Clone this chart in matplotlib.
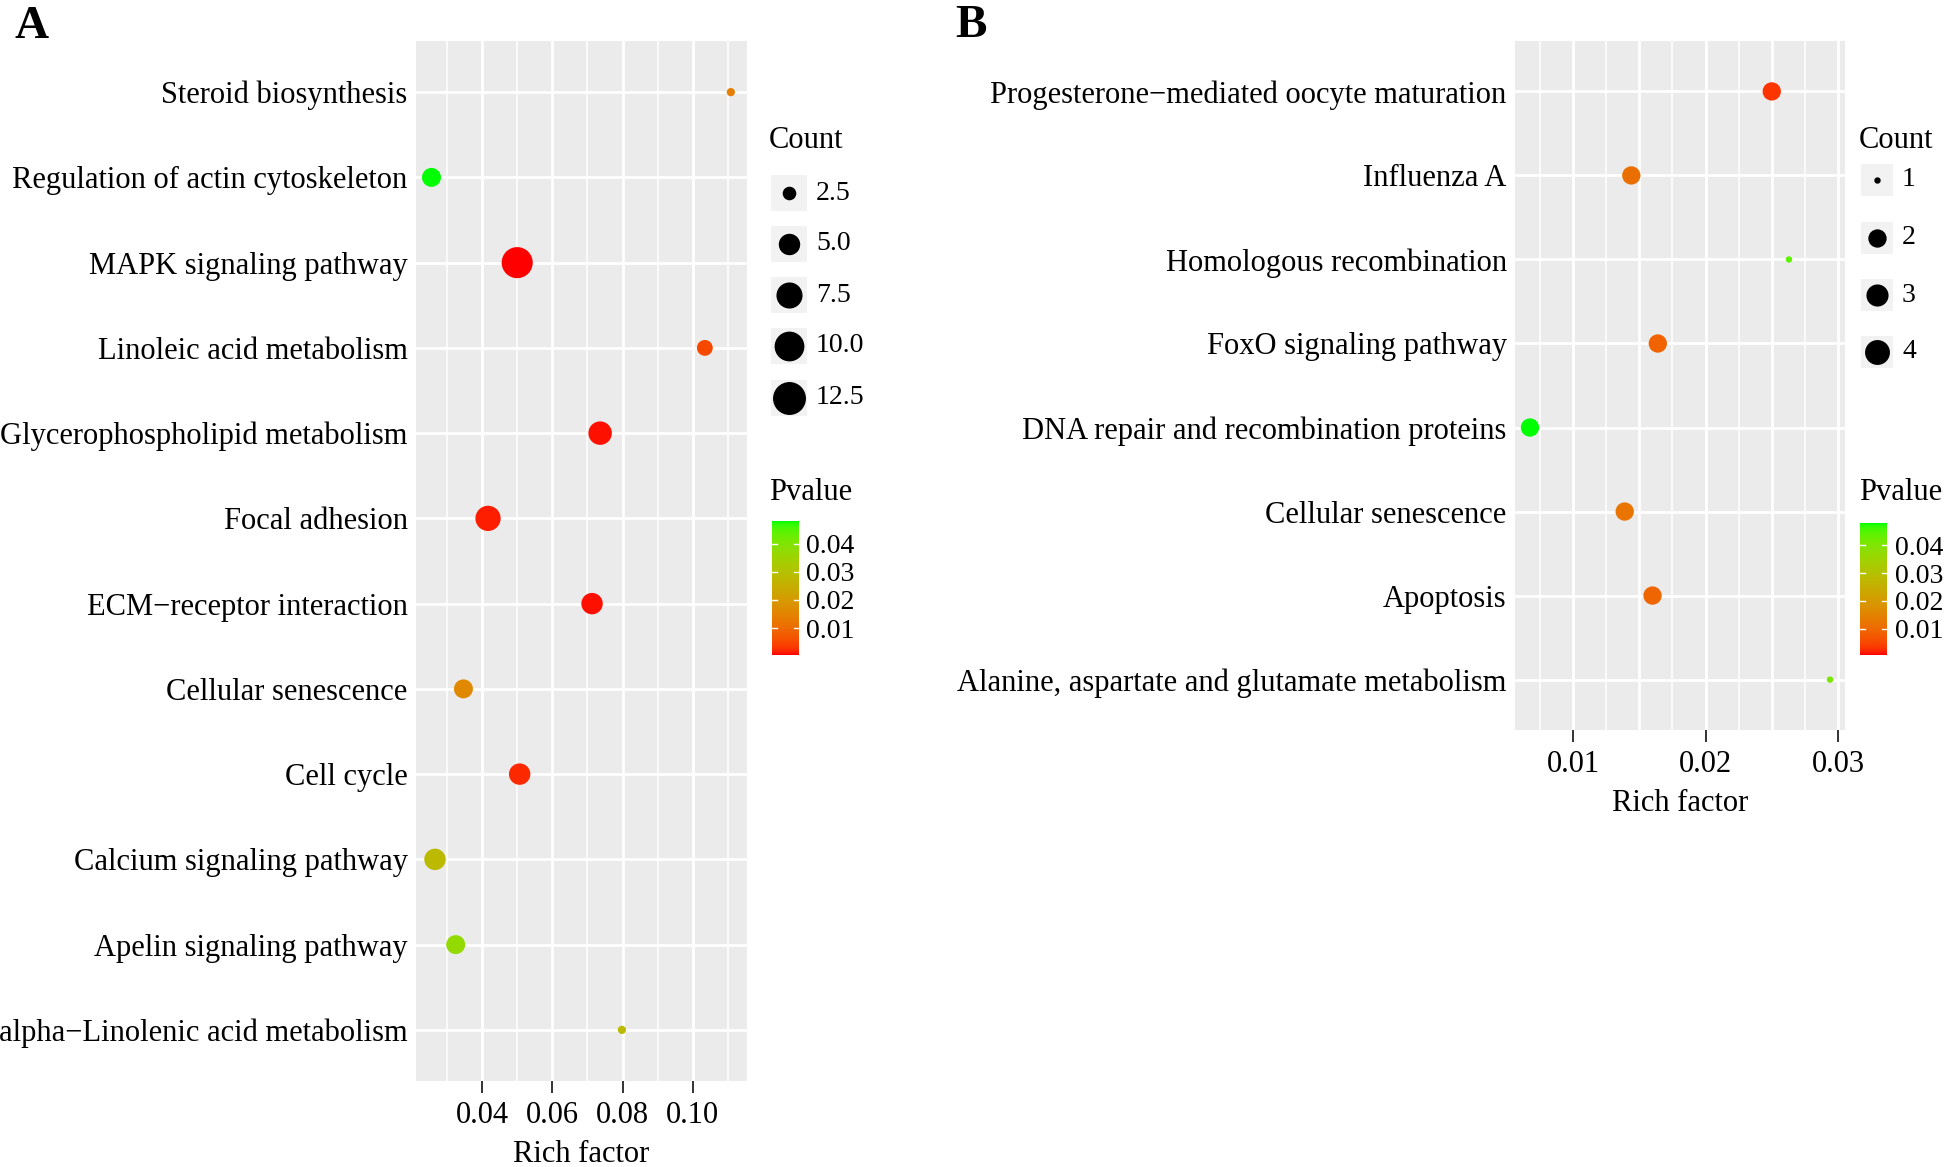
import numpy as np
import matplotlib
matplotlib.use('Agg')
import matplotlib.pyplot as plt
from matplotlib.colors import ListedColormap, Normalize
from matplotlib.patches import Rectangle
from matplotlib.cm import ScalarMappable

plt.rcParams['font.family'] = ['Liberation Serif', 'DejaVu Serif']

W, H, DPI = 1944, 1167, 100

# ---------------- data (top to bottom) ----------------
terms_a = ["Steroid biosynthesis", "Regulation of actin cytoskeleton",
           "MAPK signaling pathway", "Linoleic acid metabolism",
           "Glycerophospholipid metabolism", "Focal adhesion",
           "ECM\u2212receptor interaction", "Cellular senescence", "Cell cycle",
           "Calcium signaling pathway", "Apelin signaling pathway",
           "alpha\u2212Linolenic acid metabolism"]
rich_a = [0.1108, 0.0256, 0.0500, 0.1034, 0.0736, 0.0417,
          0.0713, 0.0347, 0.0507, 0.0266, 0.0325, 0.0798]
count_a = [2, 4, 11, 3, 6, 7, 5, 4, 5, 5, 4, 2]
pval_a = [0.014, 0.048, 0.0005, 0.005, 0.001, 0.0015,
          0.001, 0.016, 0.002, 0.028, 0.037, 0.028]

terms_b = ["Progesterone\u2212mediated oocyte maturation", "Influenza A",
           "Homologous recombination", "FoxO signaling pathway",
           "DNA repair and recombination proteins", "Cellular senescence",
           "Apoptosis", "Alanine, aspartate and glutamate metabolism"]
rich_b = [0.0250, 0.0144, 0.0263, 0.0164, 0.00675, 0.0139, 0.0160, 0.0294]
count_b = [2, 2, 1, 2, 2, 2, 2, 1]
pval_b = [0.003, 0.011, 0.044, 0.009, 0.048, 0.012, 0.0095, 0.041]

legend_a = [2.5, 5.0, 7.5, 10.0, 12.5]
legend_b = [1, 2, 3, 4]
pv_ticks = [0.01, 0.02, 0.03, 0.04]


def px_box(x0, y0, x1, y1):
    return [x0 / W, 1 - y1 / H, (x1 - x0) / W, (y1 - y0) / H]


# red -> green gradient interpolated in CIELAB (like ggplot)
M = np.array([[0.4124564, 0.3575761, 0.1804375],
              [0.2126729, 0.7151522, 0.0721750],
              [0.0193339, 0.1191920, 0.9503041]])
WHITE = np.array([0.95047, 1.0, 1.08883])


def to_lab(rgb):
    c = np.asarray(rgb, float)
    lin = np.where(c <= 0.04045, c / 12.92, ((c + 0.055) / 1.055) ** 2.4)
    xyz = M @ lin / WHITE
    f = np.where(xyz > 0.008856, np.cbrt(xyz), 7.787 * xyz + 16 / 116)
    return np.array([116 * f[1] - 16, 500 * (f[0] - f[1]), 200 * (f[1] - f[2])])


def from_lab(lab):
    L, a, b = lab
    fy = (L + 16) / 116
    f = np.array([fy + a / 500, fy, fy - b / 200])
    xyz = np.where(f ** 3 > 0.008856, f ** 3, (f - 16 / 116) / 7.787) * WHITE
    lin = np.linalg.inv(M) @ xyz
    lin = np.clip(lin, 0, None)
    c = np.where(lin <= 0.0031308, 12.92 * lin, 1.055 * lin ** (1 / 2.4) - 0.055)
    return np.clip(c, 0, 1)


lo, hi = to_lab([1, 0, 0]), to_lab([0, 1, 0])
cmap = ListedColormap([from_lab(lo + t * (hi - lo)) for t in np.linspace(0, 1, 256)])
norm = Normalize(vmin=0.0005, vmax=0.048)


def size_a(c):
    d = 8.2 + 25.3 * np.sqrt((np.asarray(c, float) - 2) / 11)
    return (d * 72 / DPI) ** 2


def size_b(c):
    d = 6.4 + 18.5 * ((np.asarray(c, float) - 1) / 3) ** 0.4
    return (d * 72 / DPI) ** 2


fig = plt.figure(figsize=(W / DPI, H / DPI), dpi=DPI)
ov = fig.add_axes([0, 0, 1, 1])
ov.set_xlim(0, W)
ov.set_ylim(H, 0)
ov.axis('off')


def draw_panel(ax, terms, rich, counts, pvals, size_fn, xlim, ticks, major, minor):
    y = np.arange(len(terms))
    ax.set_facecolor('#EBEBEB')
    for v in minor:
        ax.axvline(v, color='white', lw=1.1, zorder=0)
    for v in major:
        ax.axvline(v, color='white', lw=2.0, zorder=0)
    for yy in y:
        ax.axhline(yy, color='white', lw=2.0, zorder=0)
    ax.scatter(rich, y, s=size_fn(counts), c=pvals, cmap=cmap, norm=norm,
               linewidths=0, zorder=3)
    ax.set_xlim(*xlim)
    ax.set_ylim(len(terms) - 1 + 0.6, -0.6)
    ax.set_yticks(y)
    ax.set_yticklabels(terms, fontsize=22)
    ax.set_xticks(ticks)
    ax.set_xticklabels(['%.2f' % t for t in ticks], fontsize=22)
    ax.tick_params(axis='y', length=0, pad=6)
    ax.tick_params(axis='x', length=8.6, width=1.4, color='#333333', pad=6)
    for s in ax.spines.values():
        s.set_visible(False)
    ax.set_xlabel('Rich factor', fontsize=22, labelpad=7)


def draw_legend(xt, key_cx, key_ys, key_w, vals, labels, label_x, size_fn, cbar, cbar_lx):
    ov.text(xt, 140, 'Count', fontsize=22, va='center', ha='left')
    for yk, v, lab in zip(key_ys, vals, labels):
        ov.add_patch(Rectangle((key_cx - key_w / 2, yk - key_w / 2), key_w, key_w,
                               facecolor='#F2F2F2', edgecolor='none'))
        ov.scatter([key_cx], [yk], s=size_fn(v), color='black', linewidths=0, zorder=3)
        ov.text(label_x, yk, lab, fontsize=20, va='center', ha='left')
    ov.text(xt, 493, 'Pvalue', fontsize=22, va='center', ha='left')
    cax = fig.add_axes(px_box(*cbar))
    cb = fig.colorbar(ScalarMappable(norm=norm, cmap=cmap), cax=cax)
    cb.outline.set_visible(False)
    cb.set_ticks(pv_ticks)
    cb.set_ticklabels(['%.2f' % t for t in pv_ticks])
    cax.tick_params(length=0, labelsize=20, pad=cbar_lx)
    tr = cax.get_yaxis_transform()
    for t in pv_ticks:
        cax.plot([0, 0.2], [t, t], color='white', lw=1, transform=tr)
        cax.plot([0.8, 1], [t, t], color='white', lw=1, transform=tr)


# Panel A
ax_a = fig.add_axes(px_box(416, 41, 747, 1081))
draw_panel(ax_a, terms_a, rich_a, count_a, pval_a, size_a,
           (0.0212, 0.1154), [0.04, 0.06, 0.08, 0.10],
           [0.04, 0.06, 0.08, 0.10], [0.03, 0.05, 0.07, 0.09, 0.11])
draw_legend(769, 789, [193, 244, 295, 346, 398], 36, legend_a,
            ['%.1f' % v for v in legend_a], 816, size_a, (772, 521, 799, 655), 5)

# Panel B
ax_b = fig.add_axes(px_box(1515, 41, 1845, 730))
draw_panel(ax_b, terms_b, rich_b, count_b, pval_b, size_b,
           (0.00562, 0.03053), [0.01, 0.02, 0.03],
           [0.01, 0.015, 0.02, 0.025, 0.03], [0.0075, 0.0125, 0.0175, 0.0225, 0.0275])
draw_legend(1859, 1877, [180, 238, 295, 352], 32, legend_b,
            [str(v) for v in legend_b], 1902, size_b, (1860, 523, 1887, 655), 6)

ov.text(14, 38, 'A', fontsize=34, fontweight='bold', va='baseline', ha='left')
ov.text(955, 37, 'B', fontsize=34, fontweight='bold', va='baseline', ha='left')

fig.savefig('out.png', dpi=DPI)
